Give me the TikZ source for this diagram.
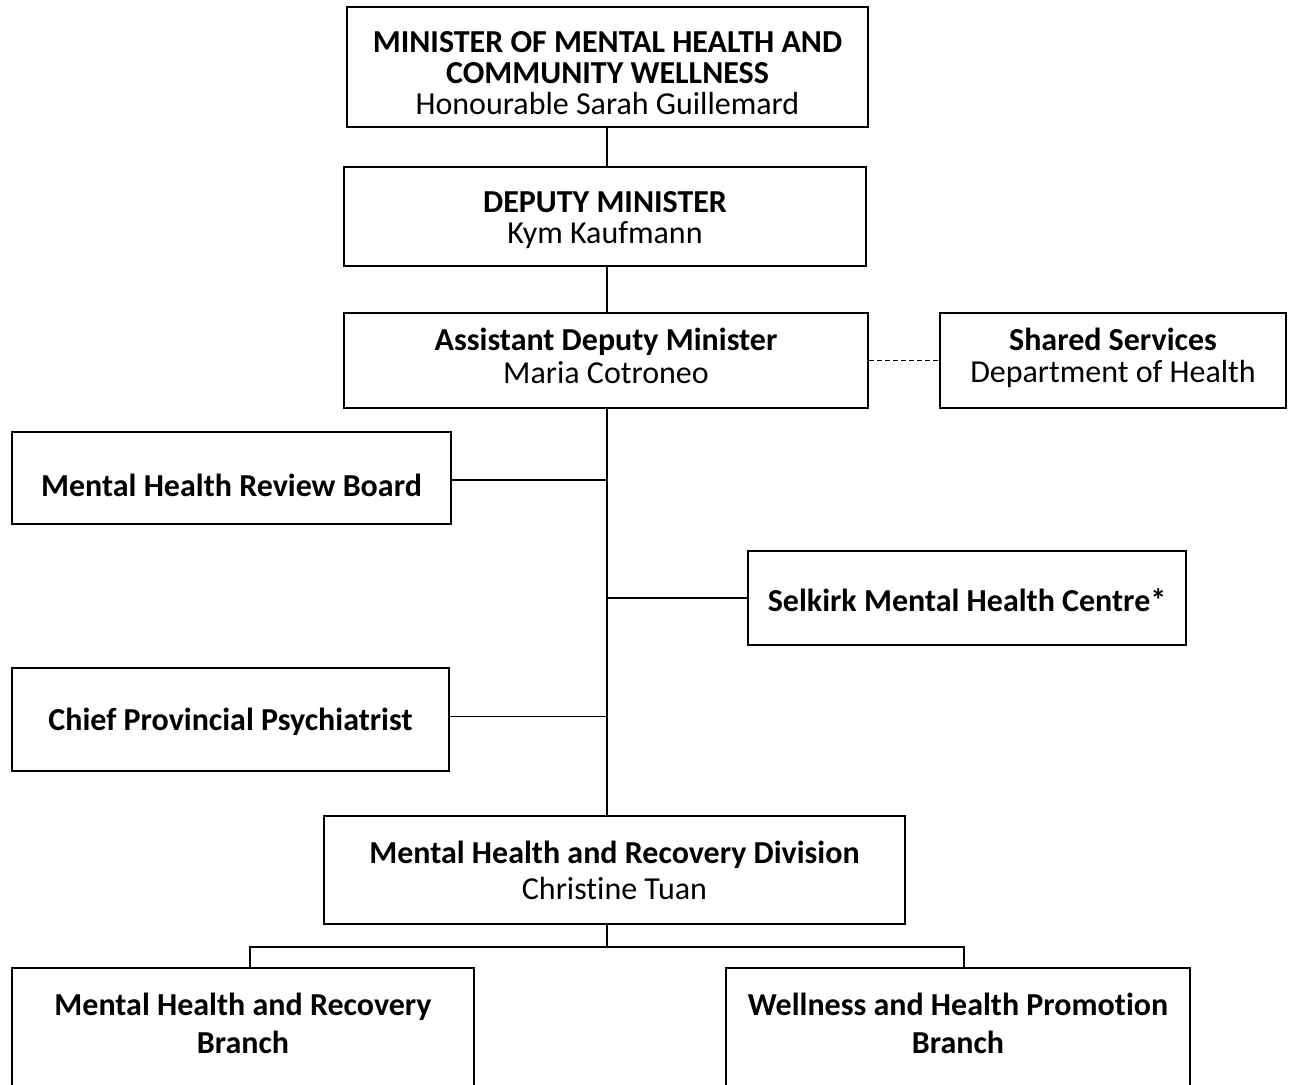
\documentclass[tikz,border=0pt]{standalone}
\usepackage{fontspec}
\setmainfont[Ligatures=NoCommon]{Carlito}
\usetikzlibrary{positioning}

\begin{document}
\begin{tikzpicture}[
            x=1pt,y=-1pt,
            font=\fontsize{32}{32}\selectfont,
            unit/.style={draw,line width=1.5pt,align=center,inner sep=0pt,text depth=0pt},
            link/.style={line width=1.5pt},
            liaison/.style={line width=1.2pt,dash pattern=on 5pt off 3pt}
        ]
            \useasboundingbox (0,0) rectangle (1290,1084);
            \coordinate (trunk) at (607,0);

            \node[unit, minimum width=521pt, minimum height=120pt, text height=94pt] (min) at (607.5,67) {\textbf{MINISTER OF MENTAL HEALTH AND}\\[-1pt]\textbf{COMMUNITY WELLNESS}\\[-1pt]Honourable Sarah Guillemard};
            \node[unit, minimum width=522pt, minimum height=99pt, text height=53pt] (dep) at (605,216.5) {\textbf{DEPUTY MINISTER}\\[-1pt]Kym Kaufmann};
            \node[unit, minimum width=524pt, minimum height=95pt, text height=45pt] (adm) at (606,360.5) {\textbf{Assistant Deputy Minister}\\[1pt]Maria Cotroneo};
            \node[unit, minimum width=346pt, minimum height=95pt, text height=43pt] (shared) at (1113,360.5) {\textbf{Shared Services}\\Department of Health};

            \node[unit, minimum width=439pt, minimum height=92pt, text height=36pt] (review) at (231.5,478) {\textbf{Mental Health Review Board}};
            \node[unit, minimum width=438pt, minimum height=94pt, text height=26pt] (selkirk) at (967,598) {\textbf{Selkirk Mental Health Centre*}};
            \node[unit, minimum width=437pt, minimum height=103pt, text height=21pt] (chief) at (230.5,719.5) {\textbf{Chief Provincial Psychiatrist}};

            \node[unit, minimum width=581pt, minimum height=108pt, text height=58pt] (division) at (614.5,870) {\textbf{Mental Health and Recovery Division}\\[4pt]Christine Tuan};

            % branch boxes run past the lower edge
            \node[unit, minimum width=462pt, minimum height=140pt, text height=30pt] (recovery) at (243,1038) {\textbf{Mental Health and Recovery}\\[6pt]\textbf{Branch}};
            \node[unit, minimum width=464pt, minimum height=140pt, text height=30pt] (wellness) at (958,1038) {\textbf{Wellness and Health Promotion}\\[6pt]\textbf{Branch}};

            \draw[link] (min.south -| trunk) -- (dep.north -| trunk);
            \draw[link] (dep.south -| trunk) -- (adm.north -| trunk);
            \draw[liaison] (adm.east) -- (shared.west);
            \draw[link] (adm.south -| trunk) -- (division.north -| trunk);

            \draw[link] ([yshift=-2pt]review.east) -- ([yshift=-2pt]review.east -| trunk);
            \draw[link] (selkirk.west) -- (selkirk.west -| trunk);
            \draw[link] ([yshift=3pt]chief.east) -- ([yshift=3pt]chief.east -| trunk);

            \draw[link] (division.south -| trunk) -- ++(0,22) coordinate (fork);
            \draw[link] ([xshift=7pt]recovery.north) |- (fork) -| ([xshift=6pt]wellness.north);
        \end{tikzpicture}
\end{document}
